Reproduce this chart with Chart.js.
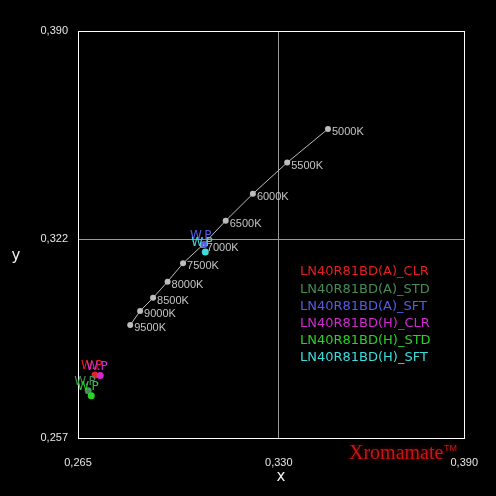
<!DOCTYPE html>
<html>
<head>
<meta charset="utf-8">
<script src="https://cdn.jsdelivr.net/npm/chart.js@4/dist/chart.umd.min.js"></script>
<style>
html,body{margin:0;padding:0;background:#000;}
canvas{display:block;}
</style>
</head>
<body>
<canvas id="c" width="496" height="496"></canvas>
<script>
// ---- data ----
const xTicks = [0.265, 0.330, 0.390];
const xTickLabels = ['0,265', '0,330', '0,390'];
const yTicks = [0.257, 0.322, 0.390];
const yTickLabels = ['0,257', '0,322', '0,390'];

const cctLabels = ['5000K','5500K','6000K','6500K','7000K','7500K','8000K','8500K','9000K','9500K'];
const cctX = [0.3459, 0.3327, 0.3216, 0.3128, 0.3054, 0.2990, 0.2940, 0.2893, 0.2851, 0.2819];
const cctY = [0.3580, 0.3470, 0.3368, 0.3280, 0.3201, 0.3141, 0.3081, 0.3028, 0.2985, 0.2939];

const wpNames = ['LN40R81BD(A)_CLR','LN40R81BD(A)_STD','LN40R81BD(A)_SFT','LN40R81BD(H)_CLR','LN40R81BD(H)_STD','LN40R81BD(H)_SFT'];
const wpX = [0.2705, 0.2683, 0.3058, 0.2722, 0.2693, 0.3062];
const wpY = [0.2776, 0.2724, 0.3202, 0.2774, 0.2708, 0.3178];
const wpColors = ['#e61e1e','#468c5a','#5a5ae6','#d228d2','#28d228','#3cdcdc'];
const wpLabel = 'W.P';

const tickFamily = '"Liberation Sans", "DejaVu Sans", sans-serif';
const labelFont = '11px ' + tickFamily;

// ---- datasets ----
const datasets = [{
  label: 'CCT',
  data: cctX.map((x, i) => ({x: x, y: cctY[i]})),
  showLine: true,
  borderColor: '#bdbdbd',
  borderWidth: 1,
  pointRadius: 3,
  pointBackgroundColor: '#bdbdbd',
  pointBorderWidth: 0,
  order: 10
}];
wpNames.forEach((n, i) => {
  datasets.push({
    label: n,
    data: [{x: wpX[i], y: wpY[i]}],
    showLine: false,
    pointRadius: 3.5,
    pointBackgroundColor: wpColors[i],
    pointBorderWidth: 0,
    order: 6 - i
  });
});

const bgPlugin = {
  id: 'bg',
  beforeDraw(chart) {
    const c = chart.ctx;
    c.save();
    c.fillStyle = '#000';
    c.fillRect(0, 0, chart.width, chart.height);
    c.restore();
  }
};

const labelPlugin = {
  id: 'labels',
  afterDatasetsDraw(chart) {
    const c = chart.ctx;
    c.save();
    // CCT labels
    c.font = labelFont;
    c.textBaseline = 'middle';
    c.textAlign = 'left';
    c.fillStyle = '#c4c4c4';
    chart.getDatasetMeta(0).data.forEach((el, i) => {
      c.fillText(cctLabels[i], el.x + 4, el.y + 3);
    });
    // W.P labels
    c.font = '12px "DejaVu Sans", sans-serif';
    for (let d = 1; d < chart.data.datasets.length; d++) {
      const el = chart.getDatasetMeta(d).data[0];
      c.fillStyle = wpColors[d - 1];
      c.fillText(wpLabel, el.x - 14, el.y - 9);
    }
    // legend
    c.font = '13px "DejaVu Sans", sans-serif';
    wpNames.forEach((n, i) => {
      c.fillStyle = wpColors[i];
      c.fillText(n, 300, 272 + i * 17.2);
    });
    // axis titles
    c.fillStyle = '#f0f0f0';
    c.font = '15px "DejaVu Sans", sans-serif';
    c.textAlign = 'center';
    c.fillText('x', 281, 477);
    c.fillText('y', 16, 256);
    // brand
    c.textAlign = 'left';
    c.textBaseline = 'alphabetic';
    c.shadowColor = '#700000';
    c.shadowBlur = 4;
    c.fillStyle = '#c81414';
    c.font = '20px "Liberation Serif", serif';
    c.fillText('Xromamate', 349, 459);
    c.font = '9px "Liberation Sans", sans-serif';
    c.fillText('TM', 444, 451);
    c.restore();
  }
};

new Chart(document.getElementById('c'), {
  type: 'scatter',
  data: {datasets: datasets},
  options: {
    responsive: false,
    animation: false,
    layout: {padding: {top: 31, right: 31, left: 0, bottom: 0}},
    plugins: {legend: {display: false}, tooltip: {enabled: false}},
    scales: {
      x: {
        type: 'linear', min: xTicks[0], max: xTicks[xTicks.length - 1],
        afterBuildTicks: s => { s.ticks = xTicks.map(v => ({value: v})); },
        afterFit: s => { s.height = 58; },
        grid: {
          color: ctx => (ctx.tick && ctx.tick.value === xTicks[1]) ? '#9a9a9a' : '#ffffff',
          lineWidth: 1, drawTicks: false
        },
        border: {display: true, color: '#ffffff', width: 1},
        ticks: {
          color: '#e6e6e6', font: {family: tickFamily, size: 11},
          padding: 18, maxRotation: 0, autoSkip: false,
          callback: (v, i) => xTickLabels[i]
        }
      },
      y: {
        type: 'linear', min: yTicks[0], max: yTicks[yTicks.length - 1],
        afterBuildTicks: s => { s.ticks = yTicks.map(v => ({value: v})); },
        afterFit: s => { s.width = 78; },
        grid: {
          color: ctx => (ctx.tick && ctx.tick.value === yTicks[1]) ? '#9a9a9a' : '#ffffff',
          lineWidth: 1, drawTicks: false
        },
        border: {display: true, color: '#ffffff', width: 1},
        ticks: {
          color: '#e6e6e6', font: {family: tickFamily, size: 11},
          padding: 10, autoSkip: false,
          callback: (v, i) => yTickLabels[i]
        }
      }
    }
  },
  plugins: [bgPlugin, labelPlugin]
});
</script>
</body>
</html>
